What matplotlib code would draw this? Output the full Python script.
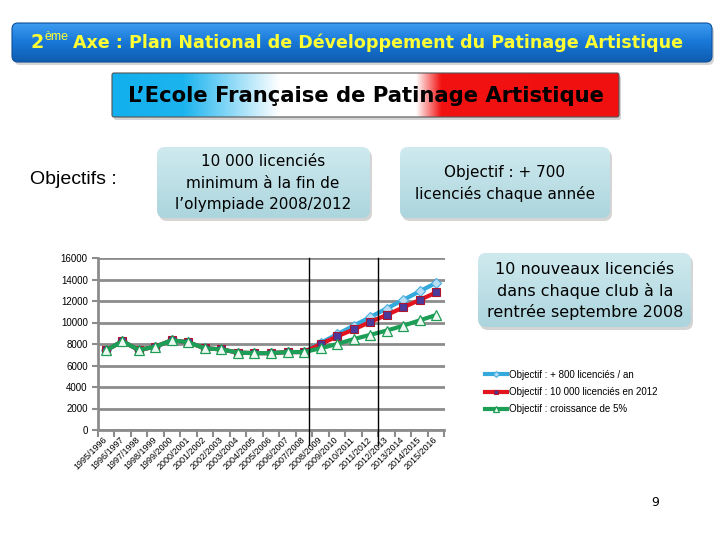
import matplotlib
matplotlib.use('Agg')
import matplotlib.pyplot as plt
import numpy as np
from matplotlib.patches import FancyBboxPatch
from matplotlib.colors import LinearSegmentedColormap
from matplotlib import font_manager as fm

# ---------------- data ----------------
seasons = ['1995/1996', '1996/1997', '1997/1998', '1998/1999', '1999/2000',
           '2000/2001', '2001/2002', '2002/2003', '2003/2004', '2004/2005',
           '2005/2006', '2006/2007', '2007/2008', '2008/2009', '2009/2010',
           '2010/2011', '2011/2012', '2012/2013', '2013/2014', '2014/2015',
           '2015/2016']
history = [7400, 8250, 7450, 7750, 8350, 8150, 7600, 7500, 7200, 7150, 7150, 7250, 7250]
obj_800 = history + [8100, 8900, 9700, 10500, 11300, 12100, 12900, 13700]
obj_10000 = history + [8000, 8700, 9350, 10050, 10700, 11400, 12100, 12800]
obj_5pct = history + [7600, 8000, 8450, 8850, 9250, 9700, 10200, 10700]
series_labels = ['Objectif : + 800 licenciés / an',
                 'Objectif : 10 000 licenciés en 2012',
                 'Objectif : croissance de 5%']
yticks = [0, 2000, 4000, 6000, 8000, 10000, 12000, 14000, 16000]

# ---------------- fonts ----------------
names = {f.name for f in fm.fontManager.ttflist}
def pick(*cands):
    for c in cands:
        if c in names:
            return c
    return 'DejaVu Sans'
ARIAL = pick('Liberation Sans', 'Arial')
NARROW = pick('Liberation Sans Narrow', 'DejaVu Sans')

W, H = 720, 540
fig = plt.figure(figsize=(7.2, 5.4), dpi=100)
bg = fig.add_axes([0, 0, 1, 1], zorder=0)
bg.set_xlim(0, W); bg.set_ylim(H, 0); bg.axis('off')
renderer = fig.canvas.get_renderer()

def gradient_box(x0, y0, x1, y1, stops, horizontal=False, radius=5, edge=None, shadow=True):
    if shadow:
        sh = FancyBboxPatch((x0 + 2, y0 + 3), x1 - x0, y1 - y0,
                            boxstyle=f"round,pad=0,rounding_size={radius}",
                            fc='#b8b8b8', ec='none', alpha=0.6, zorder=1)
        bg.add_patch(sh)
    p = FancyBboxPatch((x0, y0), x1 - x0, y1 - y0,
                       boxstyle=f"round,pad=0,rounding_size={radius}",
                       fc='none', ec=edge if edge else 'none', lw=0.8, zorder=3)
    bg.add_patch(p)
    cmap = LinearSegmentedColormap.from_list('g', stops)
    grad = np.linspace(0, 1, 256)
    img = grad[None, :] if horizontal else grad[:, None]
    im = bg.imshow(img, cmap=cmap, extent=(x0, x1, y1, y0), aspect='auto',
                   zorder=2, interpolation='bilinear')
    im.set_clip_path(p)

def fit_text(x, y, s, width, **kw):
    t = bg.text(x, y, s, **kw)
    fs = t.get_fontsize()
    w = t.get_window_extent(renderer).width
    t.set_fontsize(fs * width / w)
    return t

# Top banner
gradient_box(12, 23, 712, 62, [(0, '#3d9cf0'), (0.5, '#1877d6'), (1, '#0f5cb0')],
             radius=6, edge='#0d4f99')
t_two = bg.text(0, 43, '2', color='#ffff33', fontweight='bold', family=NARROW,
                fontsize=15, va='center', ha='left', zorder=5)
t_sup = bg.text(0, 37, 'ème', color='#ffff33', family=ARIAL, fontsize=9,
                va='center', ha='left', zorder=5)
t_rest = bg.text(0, 43, 'Axe : Plan National de Développement du Patinage Artistique',
                 color='#ffff33', fontweight='bold', family=NARROW, fontsize=15,
                 va='center', ha='left', zorder=5)
w_rest = t_rest.get_window_extent(renderer).width
target = 612
scale = target / w_rest
t_rest.set_fontsize(15 * scale); t_two.set_fontsize(15 * scale * 1.08)
w2 = t_two.get_window_extent(renderer).width
ws = t_sup.get_window_extent(renderer).width
start = 30
t_two.set_x(start); t_sup.set_x(start + w2 + 1); t_rest.set_x(start + w2 + ws + 6)

# Second banner (tricolour)
gradient_box(112, 73, 619, 117,
             [(0, '#12b0ee'), (0.14, '#1cb4ef'), (0.33, '#ffffff'), (0.6, '#ffffff'),
              (0.65, '#f21212'), (1, '#f01010')],
             horizontal=True, radius=2, edge='#555555')
fit_text(366, 96, 'L’Ecole Française de Patinage Artistique', 477, color='black',
         fontweight='bold', family='DejaVu Sans', fontsize=16, ha='center',
         va='center', zorder=5)

# Objectifs
bg.text(30, 180, 'Objectifs :', family=ARIAL, fontsize=14, ha='left', va='center', zorder=5)

teal = [(0, '#cfeaef'), (1, '#acd5dd')]
gradient_box(157, 147, 370, 218, teal, radius=8)
gradient_box(400, 147, 610, 218, teal, radius=8)
gradient_box(478, 253, 691, 327, teal, radius=8)
for i, line in enumerate(['10 000 licenciés', 'minimum à la fin de', 'l’olympiade 2008/2012']):
    bg.text(263, 162 + 21.5 * i, line, family='DejaVu Sans', fontsize=11,
            ha='center', va='center', zorder=5)
for i, line in enumerate(['Objectif : + 700', 'licenciés chaque année']):
    bg.text(505, 172 + 22 * i, line, family='DejaVu Sans', fontsize=11,
            ha='center', va='center', zorder=5)
for i, line in enumerate(['10 nouveaux licenciés', 'dans chaque club à la',
                          'rentrée septembre 2008']):
    bg.text(585, 270 + 21 * i, line, family='DejaVu Sans', fontsize=11.5,
            ha='center', va='center', zorder=5)

bg.text(655, 503, '9', family='DejaVu Sans', fontsize=9, ha='center', va='center', zorder=5)

# ---------------- chart ----------------
ax = fig.add_axes([97.5 / W, (H - 430) / H, 347 / W, 172 / H], zorder=2)
ax.set_facecolor('none')
x = np.arange(len(seasons))
ax.plot(x, obj_800, color='#33a9dc', lw=3, marker='D', ms=5, mfc='#b8def5',
        mec='#4aaee0', mew=0.8, label=series_labels[0], zorder=3)
ax.plot(x, obj_10000, color='#e3141e', lw=3, marker='s', ms=5.5, mfc='#4b3a9a',
        mec='#b0142a', mew=0.8, label=series_labels[1], zorder=4)
ax.plot(x, obj_5pct, color='#1d9e57', lw=3, marker='^', ms=6.5, mfc='#eef8f1',
        mec='#1d9e57', mew=0.9, label=series_labels[2], zorder=5)

ax.set_xlim(-0.5, len(seasons) - 0.5)
ax.set_ylim(0, 16000)
ax.set_yticks(yticks)
ax.set_yticklabels([str(v) for v in yticks], family=ARIAL, fontsize=7)
ax.yaxis.grid(True, color='#8c8c8c', lw=2)
ax.set_axisbelow(True)
ax.set_xticks(x)
ax.set_xticklabels(seasons, rotation=45, ha='right', va='center',
                   rotation_mode='anchor', family=ARIAL, fontsize=6.5)
ax.set_xticks(np.arange(-0.5, len(seasons), 1.0), minor=True)
ax.tick_params(axis='x', which='major', length=0, pad=6)
ax.tick_params(axis='x', which='minor', length=5, width=1.5, color='#8c8c8c')
ax.tick_params(axis='y', length=4, width=1.5, color='#8c8c8c', pad=3)
for s in ['top', 'right']:
    ax.spines[s].set_visible(False)
for s in ['left', 'bottom']:
    ax.spines[s].set_color('#8c8c8c'); ax.spines[s].set_linewidth(2)

for xv in (12.3, 16.45):
    ax.plot([xv, xv], [16000, -1400], color='black', lw=1, clip_on=False, zorder=6)

leg = ax.legend(loc='upper left', bbox_to_anchor=(480 / W, 1 - 365 / H),
                bbox_transform=fig.transFigure, frameon=False,
                prop={'family': ARIAL, 'size': 7}, handlelength=2.3,
                handletextpad=0.2, labelspacing=0.75, borderpad=0, markerscale=0.6)

fig.savefig('out.png', dpi=100)
